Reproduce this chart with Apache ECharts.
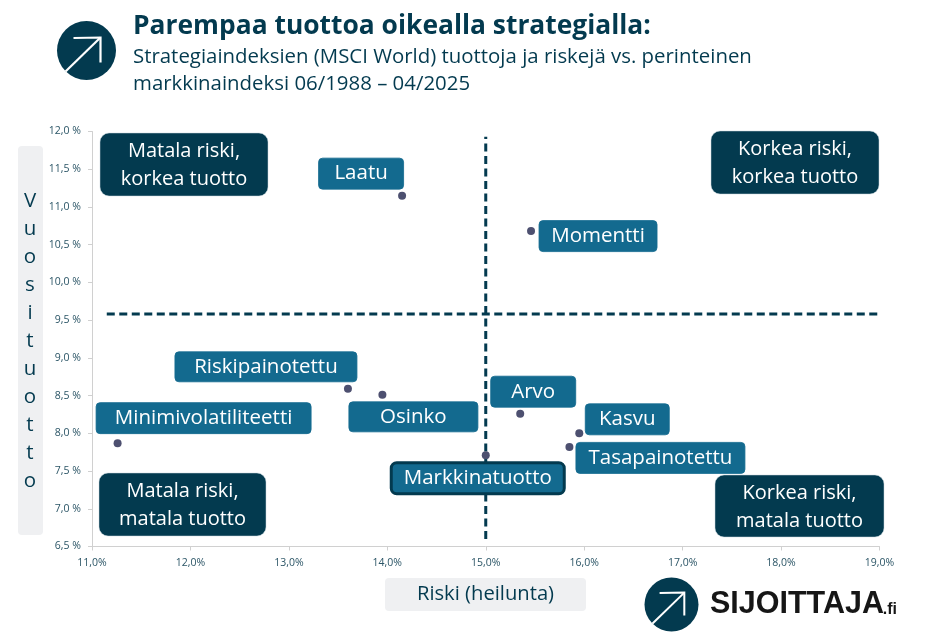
<!DOCTYPE html>
<html><head><meta charset="utf-8">
<style>html,body{margin:0;padding:0;background:#fff}#c{width:927px;height:637px}</style>
<script src="https://cdn.jsdelivr.net/npm/echarts@6/dist/echarts.min.js"></script></head>
<body><div id="c"></div>
<script>
const strategies = ['Laatu','Momentti','Riskipainotettu','Osinko','Minimivolatiliteetti','Arvo','Kasvu','Tasapainotettu','Markkinatuotto'];
const risk = [14.15,15.46,13.60,13.95,11.26,15.35,15.95,15.85,15.00];
const ret = [11.15,10.68,8.59,8.51,7.87,8.26,8.00,7.82,7.71];
const marketRisk = 15.0;
const riskLine = [[11.15,9.58],[19,9.58]];
const returnLine = [[marketRisk,6.6],[marketRisk,11.93]];
const titleText = 'Parempaa tuottoa oikealla strategialla:';
const subtitleLines = 'Strategiaindeksien (MSCI World) tuottoja ja riskejä vs. perinteinen\nmarkkinaindeksi 06/1988 – 04/2025';
const xName = 'Riski (heilunta)';
const yName = 'Vuosituotto';
const quadrants = ['Matala riski,\nkorkea tuotto','Korkea riski,\nkorkea tuotto','Matala riski,\nmatala tuotto','Korkea riski,\nmatala tuotto'];

// label box layout: [dx, dy from point to box centre, width, height]
const labelLayout = [[-41,-22,85,31],[67,5,118,31],[-82,-22,182,30],[31,22,129,30],[86,-25,215,31],[13,-22,85,31],[48,-14,84,31],[91,11,169,31],[-8,23,176,34]];
const quadBoxes = [[100,133,168,63],[711,131,168,63],[99,473,167,63],[715,475,169,62]];
const DARK='#033a4f', BLUE='#136a8f', FF='"Open Sans"';

const data = strategies.map((n,i)=>{
  const L=labelLayout[i], market=n==='Markkinatuotto', h=L[3]-(market?6:0)-2;
  return {name:n,value:[risk[i],ret[i]],label:{show:true,position:'inside',
    formatter:'{b}',width:L[2]-(market?6:0),height:h,lineHeight:h,padding:[2,0,0,0],align:'center',verticalAlign:'middle',
    backgroundColor:BLUE,borderRadius:4,color:'#fff',fontFamily:FF,fontSize:20.5,
    borderColor:market?DARK:'#3f86a4',borderWidth:market?3:0.5}};
});
function arrow(cx,cy,s){
  const d=s/29.5;
  return [
   {type:'circle',shape:{cx,cy,r:s},style:{fill:DARK},z:20},
   {type:'polyline',shape:{points:[[cx-21*d,cy+21*d],[cx+14*d,cy-13*d]]},style:{stroke:'#fff',lineWidth:2.2*d,fill:null},z:21},
   {type:'polyline',shape:{points:[[cx-13*d,cy-12.5*d],[cx+14*d,cy-13*d],[cx+14*d,cy+12*d]]},style:{stroke:'#fff',lineWidth:2.2*d,fill:null},z:21}
  ];
}
const graphic=[
  ...arrow(86.5,50.5,29.5), ...arrow(671.5,604.5,27),
  {type:'text',left:133,top:13,style:{text:titleText,fontFamily:FF,fontWeight:'bold',fontSize:26.4,fill:DARK}},
  {type:'text',left:133,top:44,style:{text:subtitleLines,fontFamily:FF,fontSize:20.4,lineHeight:27,fill:DARK}},
  {type:'rect',shape:{x:18,y:146,width:25,height:389,r:4},style:{fill:'#eff0f2'}},
  {type:'text',z:5,style:{x:30,y:341,text:yName.split('').join('\n'),align:'center',verticalAlign:'middle',fontFamily:FF,fontSize:20.5,lineHeight:28,fill:DARK}},
  {type:'rect',shape:{x:385,y:578,width:201,height:33,r:4},style:{fill:'#eff0f2'}},
  {type:'text',z:5,style:{x:485.5,y:594,text:xName,align:'center',verticalAlign:'middle',fontFamily:FF,fontSize:20.2,fill:DARK}},
  {type:'text',z:5,style:{x:710,y:605,text:'SIJOITTAJA',verticalAlign:'middle',fontFamily:'Liberation Sans',fontWeight:'bold',fontSize:30.5,fill:'#161616'}},
  {type:'text',z:5,style:{x:897,y:610,text:'.fi',align:'right',verticalAlign:'middle',fontFamily:'Liberation Sans',fontWeight:'bold',fontSize:16,fill:'#161616'}},
  ...quadrants.map((t,i)=>{const b=quadBoxes[i];return {type:'rect',z:10,shape:{x:b[0],y:b[1],width:b[2],height:b[3],r:9},style:{fill:DARK,stroke:'#c9d6dc',lineWidth:0.5}}}),
  ...quadrants.map((t,i)=>{const b=quadBoxes[i];return {type:'text',z:11,style:{x:b[0]+b[2]/2,y:b[1]+b[3]/2+1,text:t,align:'center',verticalAlign:'middle',fontFamily:FF,fontSize:20,lineHeight:28,fill:'#fff'}}})
];
const axisCommon={axisLine:{show:true,onZero:false,lineStyle:{color:'#d0d0d0',width:1}},axisTick:{show:true,length:4,lineStyle:{color:'#d0d0d0'}},splitLine:{show:false}};
const chart=echarts.init(document.getElementById('c'),null,{renderer:'canvas'});
const dash=(d)=>({type:'line',data:d,symbol:'none',silent:true,z:1,lineStyle:{color:DARK,width:3,type:[8,4.5]}});
chart.setOption({animation:false,backgroundColor:'#fff',
  grid:{left:92,right:47.5,top:131.5,bottom:90.5,containLabel:false},
  tooltip:{show:false},
  xAxis:{type:'value',min:11,max:19,interval:1,...axisCommon,
    axisLabel:{margin:11,fontFamily:FF,fontSize:10.5,color:'#2b5566',formatter:v=>v.toFixed(1).replace('.',',')+'%',hideOverlap:false,showMinLabel:true,showMaxLabel:true}},
  yAxis:{type:'value',min:6.5,max:12,interval:0.5,...axisCommon,
    axisLabel:{margin:11,fontFamily:FF,fontSize:10.5,color:'#2b5566',formatter:v=>v.toFixed(1).replace('.',',')+' %',showMinLabel:true,showMaxLabel:true}},
  series:[dash(riskLine),dash(returnLine),
    {type:'scatter',z:5,symbolSize:8,data,itemStyle:{color:'#4d5070',opacity:1},emphasis:{disabled:true},
     labelLayout:(p)=>({dx:labelLayout[p.dataIndex][0],dy:labelLayout[p.dataIndex][1],hideOverlap:false})}],
  graphic
});
</script></body></html>
